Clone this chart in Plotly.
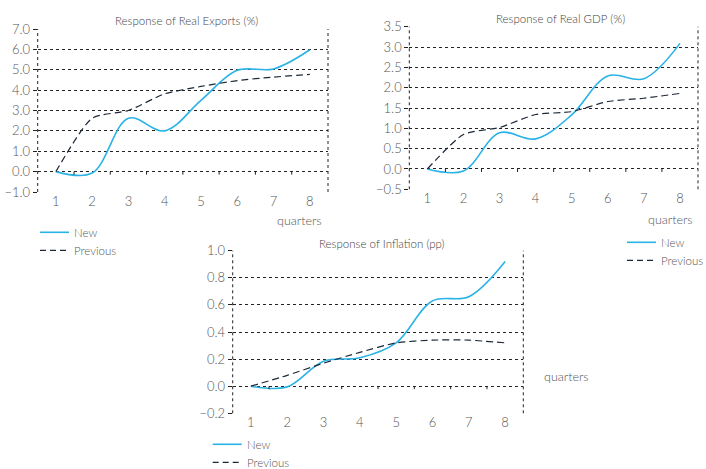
import plotly.graph_objects as go

quarters = [1, 2, 3, 4, 5, 6, 7, 8]

exports_new = [0.0, -0.07, 2.62, 2.0, 3.5, 4.97, 5.04, 5.98]
exports_prev = [0.0, 2.62, 3.0, 3.82, 4.18, 4.47, 4.64, 4.77]

gdp_new = [0.0, -0.05, 0.89, 0.74, 1.33, 2.29, 2.22, 3.09]
gdp_prev = [0.0, 0.85, 1.02, 1.34, 1.41, 1.66, 1.74, 1.86]

infl_new = [0.0, -0.005, 0.185, 0.21, 0.32, 0.63, 0.66, 0.92]
infl_prev = [0.0, 0.08, 0.17, 0.25, 0.32, 0.34, 0.34, 0.32]

series_names = ["New", "Previous"]
titles = ["Response of Real Exports (%)", "Response of Real GDP (%)", "Response of Inflation (pp)"]
y_ticks = [
    [-1.0, 0.0, 1.0, 2.0, 3.0, 4.0, 5.0, 6.0, 7.0],
    [-0.5, 0.0, 0.5, 1.0, 1.5, 2.0, 2.5, 3.0, 3.5],
    [-0.2, 0.0, 0.2, 0.4, 0.6, 0.8, 1.0],
]
series = [(exports_new, exports_prev), (gdp_new, gdp_prev), (infl_new, infl_prev)]

W, H = 706, 469
# panel boxes in pixels: left, right, top, bottom
boxes = [(37.7, 328.0, 29.0, 192.0), (409.3, 698.0, 26.7, 189.3), (232.7, 523.3, 250.7, 413.3)]
title_pos = [(186, 20.7), (560, 18.3), (381.7, 243.3)]
quart_pos = [(299, 220.7), (670, 219), (566.7, 376.7)]
# legend: sample line left x, first row y (pixels)
legend_pos = [(40, 232.3), (627, 242.3), (212.7, 444.3)]
LEG_ROW = 18
LEG_LINE = 29
LEG_TXT_GAP = 3

NEW_C = "#29b2e6"
PREV_C = "#1c2838"
FONT = "Lato"
TXT = "#555555"
WT = 300

fig = go.Figure()
layout = dict(
    width=W, height=H, margin=dict(l=0, r=0, t=0, b=0, autoexpand=False),
    paper_bgcolor="white", plot_bgcolor="white", showlegend=False,
    font=dict(family=FONT, color=TXT, size=12, weight=WT),
)
annotations = []
shapes = []
boundaries = [q + 0.5 for q in quarters[:-1]]
styles = [dict(color=NEW_C, width=1.6), dict(color=PREV_C, width=1.2, dash="7px,4px")]
leg_styles = [dict(color=NEW_C, width=1.6), dict(color=PREV_C, width=1.2, dash="6px,4px")]
for i, ((nv, pv), yt, box) in enumerate(zip(series, y_ticks, boxes)):
    k = "" if i == 0 else str(i + 1)
    xa, ya = "x" + k, "y" + k
    fig.add_trace(go.Scatter(x=quarters, y=nv, mode="lines", name=series_names[0],
                             line=dict(**styles[0], shape="spline", smoothing=1.0),
                             xaxis=xa, yaxis=ya))
    fig.add_trace(go.Scatter(x=quarters, y=pv, mode="lines", name=series_names[1],
                             line=dict(**styles[1], shape="spline", smoothing=0.6),
                             xaxis=xa, yaxis=ya))
    l, r, t, b = box
    ydom = [1 - b / H, 1 - t / H]
    layout["xaxis" + k] = dict(domain=[l / W, r / W], anchor=ya, range=[0.5, 8.5],
                               tickvals=quarters, showgrid=False, zeroline=False, showline=False,
                               ticks="", tickfont=dict(size=13, color=TXT, weight=WT), fixedrange=True)
    layout["yaxis" + k] = dict(domain=ydom, anchor=xa, range=[yt[0], yt[-1]],
                               tickvals=yt, tickformat=".1f", showgrid=True, gridcolor="#222222",
                               griddash="3px,3px", gridwidth=1, zeroline=False, showline=False,
                               ticks="outside", ticklen=4, tickcolor="#222222",
                               tickfont=dict(size=13, color=TXT, weight=WT))
    # small tick marks hanging from the zero line between quarters
    for bx in boundaries:
        shapes.append(dict(type="line", xref=xa, yref=ya, ysizemode="pixel", yanchor=0,
                           x0=bx, x1=bx, y0=0, y1=-3,
                           line=dict(color="#222222", width=1)))
    for xd in (0, 1):
        shapes.append(dict(type="line", xref=xa + " domain", yref=ya + " domain",
                           x0=xd, x1=xd, y0=0, y1=1,
                           line=dict(color="#222222", width=1, dash="3px,3px")))
    tx, ty = title_pos[i]
    annotations.append(dict(text=titles[i], x=tx / W, y=1 - ty / H, xref="paper", yref="paper",
                            showarrow=False, xanchor="center", yanchor="middle",
                            font=dict(size=11.5, color="#444444", family=FONT, weight=WT)))
    qx, qy = quart_pos[i]
    annotations.append(dict(text="quarters", x=qx / W, y=1 - qy / H, xref="paper", yref="paper",
                            showarrow=False, xanchor="center", yanchor="middle",
                            font=dict(size=12.5, color=TXT, family=FONT, weight=WT)))
    # legend rows
    lx, ly = legend_pos[i]
    for j, name in enumerate(series_names):
        yy = 1 - (ly + j * LEG_ROW) / H
        shapes.append(dict(type="line", xref="paper", yref="paper",
                           x0=lx / W, x1=(lx + LEG_LINE) / W, y0=yy, y1=yy,
                           line=leg_styles[j]))
        annotations.append(dict(text=name, x=(lx + LEG_LINE + LEG_TXT_GAP) / W, y=yy,
                                xref="paper", yref="paper", showarrow=False,
                                xanchor="left", yanchor="middle",
                                font=dict(size=11.5, color=TXT, family=FONT, weight=WT)))

layout["annotations"] = annotations
layout["shapes"] = shapes
fig.update_layout(**layout)
fig.write_html("out.html")
